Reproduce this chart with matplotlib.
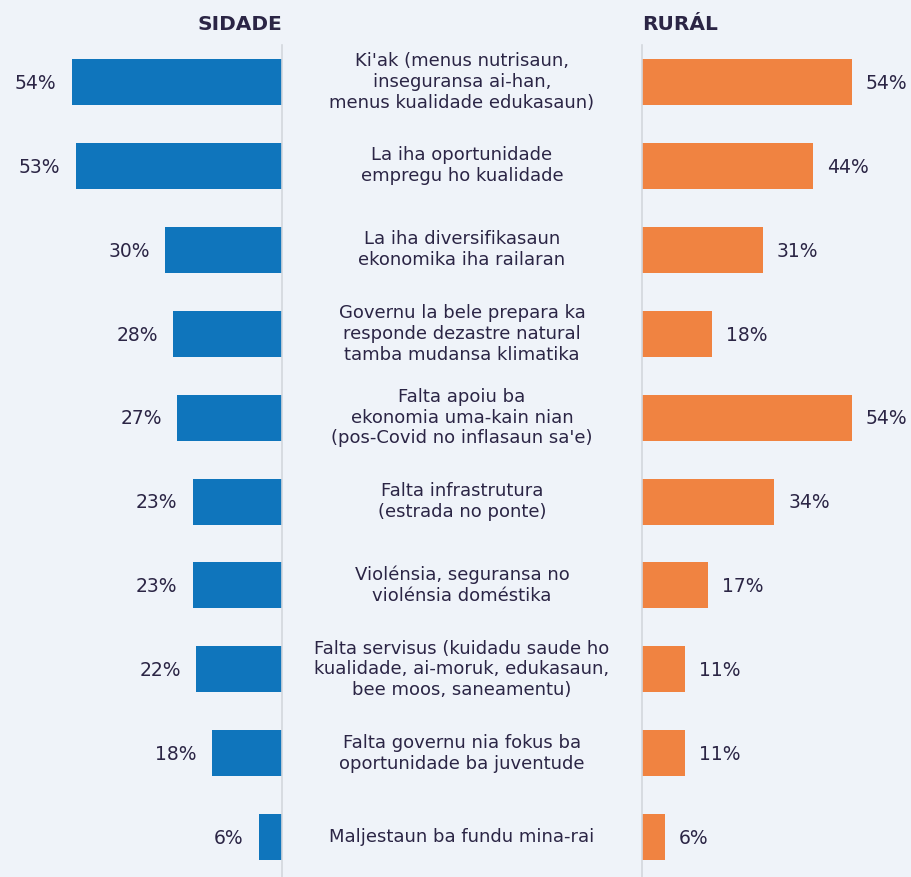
import matplotlib
matplotlib.use("Agg")
import matplotlib.pyplot as plt
from matplotlib.lines import Line2D

plt.rcParams['font.family'] = ['DejaVu Sans']

categories = [
    "Ki'ak (menus nutrisaun,\ninseguransa ai-han,\nmenus kualidade edukasaun)",
    "La iha oportunidade\nempregu ho kualidade",
    "La iha diversifikasaun\nekonomika iha railaran",
    "Governu la bele prepara ka\nresponde dezastre natural\ntamba mudansa klimatika",
    "Falta apoiu ba\nekonomia uma-kain nian\n(pos-Covid no inflasaun sa'e)",
    "Falta infrastrutura\n(estrada no ponte)",
    "Violénsia, seguransa no\nviolénsia doméstika",
    "Falta servisus (kuidadu saude ho\nkualidade, ai-moruk, edukasaun,\nbee moos, saneamentu)",
    "Falta governu nia fokus ba\noportunidade ba juventude",
    "Maljestaun ba fundu mina-rai",
]
sidade = [54, 53, 30, 28, 27, 23, 23, 22, 18, 6]
rural = [54, 44, 31, 18, 54, 34, 17, 11, 11, 6]
headers = ["SIDADE", "RURÁL"]

W, H = 911, 877
BG = "#eff3f9"
BLUE = "#0f75bc"
ORANGE = "#f08341"
TXT = "#2b2545"

fig = plt.figure(figsize=(W / 100, H / 100), dpi=100, facecolor=BG)

px_per_pct = 3.89
row_h = 83.9
first_c = 82
ylo = -first_c / row_h
yhi = (H - first_c) / row_h

xl, xr = 282, 642
axL = fig.add_axes([0, 0, xl / W, 1])
axR = fig.add_axes([xr / W, 0, (W - xr) / W, 1])
for ax in (axL, axR):
    ax.set_facecolor("none")
    ax.set_ylim(yhi, ylo)
    ax.axis("off")
axL.set_xlim(xl / px_per_pct, 0)
axR.set_xlim(0, (W - xr) / px_per_pct)

ys = list(range(len(categories)))
bh = 46 / row_h
axL.barh(ys, sidade, height=bh, color=BLUE)
axR.barh(ys, rural, height=bh, color=ORANGE)

for y, v in zip(ys, sidade):
    axL.annotate(f"{v}%", (v, y), xytext=(-11, -1), textcoords="offset points",
                 ha="right", va="center", fontsize=13.5, color=TXT)
for y, v in zip(ys, rural):
    axR.annotate(f"{v}%", (v, y), xytext=(10, -1), textcoords="offset points",
                 ha="left", va="center", fontsize=13.5, color=TXT)

# divider lines
for x in (xl, xr):
    fig.add_artist(Line2D([x / W, x / W], [0, 1 - 45 / H], color="#d3d7dd", lw=1.2))

# headers
fig.text(xl / W, 1 - 25 / H, headers[0], ha="right", va="center",
         fontsize=14.5, fontweight="bold", color=TXT)
fig.text(xr / W, 1 - 25 / H, headers[1], ha="left", va="center",
         fontsize=14.5, fontweight="bold", color=TXT)

# center labels
for y, lab in zip(ys, categories):
    py = first_c + y * row_h
    fig.text(462 / W, 1 - py / H, lab, ha="center", va="center",
             fontsize=13, color=TXT, linespacing=1.2, multialignment="center")

fig.savefig("out.png", dpi=100, facecolor=BG)
